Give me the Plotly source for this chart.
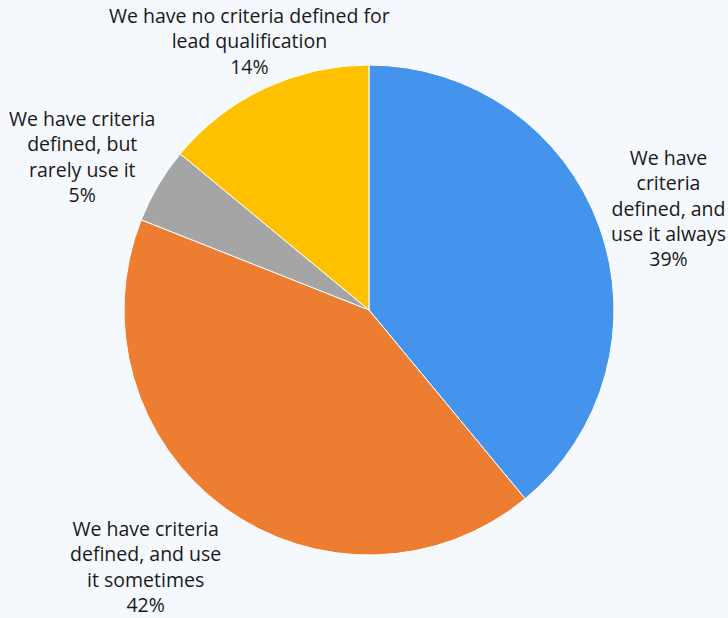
import plotly.graph_objects as go

labels = ["We have criteria defined, and use it always",
          "We have criteria defined, and use it sometimes",
          "We have criteria defined, but rarely use it",
          "We have no criteria defined for lead qualification"]
values = [39, 42, 5, 14]
label_lines = [
    "We have<br>criteria<br>defined, and<br>use it always",
    "We have criteria<br>defined, and use<br>it sometimes",
    "We have criteria<br>defined, but<br>rarely use it",
    "We have no criteria defined for<br>lead qualification",
]
colors = ["#4494EE", "#ED7D31", "#A5A5A5", "#FFC000"]
# label centre positions (paper coords)
label_pos = [(0.918, 0.663), (0.20, 0.084), (0.113, 0.746), (0.343, 0.933)]

W, H = 728, 618
cx, cy, r = 369, 310, 245

fig = go.Figure(go.Pie(
    labels=labels, values=values, sort=False, direction="clockwise", rotation=0,
    marker=dict(colors=colors, line=dict(color="white", width=1)),
    textinfo="none", hoverinfo="label+percent", showlegend=False,
    domain=dict(x=[(cx - r) / W, (cx + r) / W], y=[(H - cy - r) / H, (H - cy + r) / H]),
))

total = sum(values)
for txt, v, (x, y) in zip(label_lines, values, label_pos):
    fig.add_annotation(x=x, y=y, xref="paper", yref="paper", showarrow=False,
                       text=f"{txt}<br>{round(100 * v / total)}%",
                       align="center", xanchor="center", yanchor="middle",
                       font=dict(family="Open Sans, sans-serif", size=19.5, color="#1A1A1A"))

fig.update_layout(width=W, height=H, margin=dict(l=0, r=0, t=0, b=0),
                  paper_bgcolor="#F5F8FC", plot_bgcolor="#F5F8FC")
fig.write_html("out.html", config={"displayModeBar": False},
               post_script="document.body.style.margin='0';document.body.style.overflow='hidden';")
